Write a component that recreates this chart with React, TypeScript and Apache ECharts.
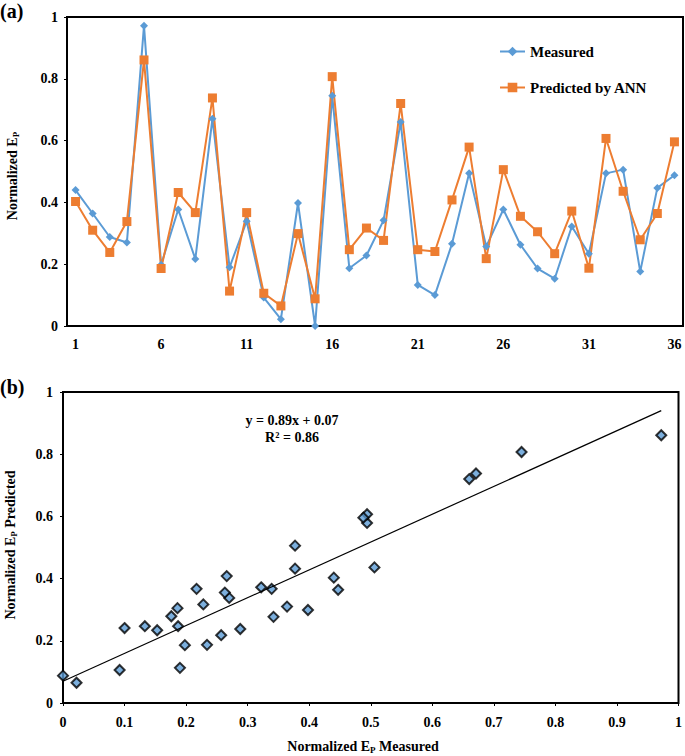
import React, { useEffect, useRef } from "react";
import * as echarts from "echarts";

const sampleLabels = [
  "1","2","3","4","5","6","7","8","9","10","11","12","13","14","15","16","17","18",
  "19","20","21","22","23","24","25","26","27","28","29","30","31","32","33","34","35","36",
];
const measured = [
  0.44, 0.364, 0.288, 0.27, 0.972, 0.198, 0.377, 0.217, 0.671, 0.19, 0.339, 0.092,
  0.022, 0.398, 0.0, 0.745, 0.187, 0.228, 0.342, 0.66, 0.133, 0.1, 0.266, 0.494,
  0.257, 0.377, 0.263, 0.186, 0.153, 0.322, 0.234, 0.494, 0.506, 0.176, 0.447, 0.488,
];
const predicted = [
  0.403, 0.31, 0.238, 0.338, 0.861, 0.186, 0.432, 0.367, 0.738, 0.113, 0.367, 0.106,
  0.065, 0.299, 0.088, 0.807, 0.247, 0.317, 0.277, 0.72, 0.247, 0.241, 0.408, 0.579,
  0.218, 0.506, 0.355, 0.305, 0.234, 0.372, 0.187, 0.607, 0.436, 0.279, 0.364, 0.596,
];
const trendLine = [
  [0, 0.07],
  [0.972, 0.94],
];
const equationLines = ["y = 0.89x + 0.07", "R² = 0.86"];

const FONT = "Liberation Serif";
const BLUE = "#5B9BD5";
const ORANGE = "#ED7D31";

const labelStyle = { color: "#000", fontFamily: FONT, fontWeight: "bold" as const, fontSize: 14 };

function titleRich() {
  return {
    a: { fontFamily: FONT, fontWeight: "bold", fontSize: 14, fill: "#000" },
    s: { fontFamily: FONT, fontWeight: "bold", fontSize: 9, fill: "#000", padding: [7, 0, 0, 0] },
  };
}

export default function App() {
  const ref = useRef<HTMLDivElement>(null);
  useEffect(() => {
    if (!ref.current) return;
    const chart = echarts.init(ref.current, null, { renderer: "svg" });
    const scatterData = measured.map((m, i) => [m, predicted[i]]);
    chart.setOption({
      animation: false,
      backgroundColor: "#fff",
      grid: [
        { left: 67, top: 17, right: 2, bottom: 430, show: true, borderColor: "#000", borderWidth: 2, backgroundColor: "transparent" },
        { left: 63, top: 392, right: 4, bottom: 53, show: true, borderColor: "#000", borderWidth: 2, backgroundColor: "transparent" },
      ],
      legend: {
        data: ["Measured", "Predicted by ANN"],
        orient: "vertical",
        left: 494,
        top: 39,
        itemWidth: 25,
        itemHeight: 12,
        itemGap: 21,
        textStyle: { ...labelStyle, fontSize: 15 },
      },
      xAxis: [
        {
          type: "category",
          gridIndex: 0,
          data: sampleLabels,
          boundaryGap: true,
          axisLine: { show: false },
          axisTick: { show: false },
          axisLabel: { ...labelStyle, interval: 4, margin: 11 },
        },
        {
          type: "value",
          gridIndex: 1,
          min: 0,
          max: 1,
          interval: 0.1,
          splitLine: { show: false },
          axisLine: { show: false },
          axisTick: { show: true, length: 3, lineStyle: { color: "#000" } },
          axisLabel: { ...labelStyle, margin: 12, formatter: (v: number) => String(Math.round(v * 10) / 10) },
        },
      ],
      yAxis: [
        {
          type: "value",
          gridIndex: 0,
          min: 0,
          max: 1,
          interval: 0.2,
          splitLine: { show: false },
          axisLine: { show: false },
          axisTick: { show: true, length: 3, lineStyle: { color: "#000" } },
          axisLabel: { ...labelStyle, margin: 9, formatter: (v: number) => String(Math.round(v * 10) / 10) },
        },
        {
          type: "value",
          gridIndex: 1,
          min: 0,
          max: 1,
          interval: 0.2,
          splitLine: { show: false },
          axisLine: { show: false },
          axisTick: { show: true, length: 3, lineStyle: { color: "#000" } },
          axisLabel: { ...labelStyle, margin: 10, formatter: (v: number) => String(Math.round(v * 10) / 10) },
        },
      ],
      series: [
        {
          name: "Measured",
          type: "line",
          xAxisIndex: 0,
          yAxisIndex: 0,
          data: measured,
          symbol: "diamond",
          symbolSize: 8,
          showAllSymbol: true,
          lineStyle: { color: BLUE, width: 2 },
          itemStyle: { color: BLUE },
        },
        {
          name: "Predicted by ANN",
          type: "line",
          xAxisIndex: 0,
          yAxisIndex: 0,
          data: predicted,
          symbol: "rect",
          symbolSize: 9,
          showAllSymbol: true,
          lineStyle: { color: ORANGE, width: 2 },
          itemStyle: { color: ORANGE },
        },
        {
          name: "Trend",
          type: "line",
          xAxisIndex: 1,
          yAxisIndex: 1,
          data: trendLine,
          symbol: "none",
          lineStyle: { color: "#000", width: 1.2 },
        },
        {
          name: "Scatter",
          type: "scatter",
          xAxisIndex: 1,
          yAxisIndex: 1,
          data: scatterData,
          symbol: "diamond",
          symbolSize: 10,
          itemStyle: { color: BLUE, borderColor: "#000", borderWidth: 2 },
        },
      ],
      graphic: [
        { type: "text", x: 0, y: 1, style: { text: "(a)", font: `bold 20px "${FONT}"`, fill: "#000" } },
        { type: "text", x: 0, y: 377, style: { text: "(b)", font: `bold 20px "${FONT}"`, fill: "#000" } },
        {
          type: "text",
          x: 12,
          y: 176,
          rotation: Math.PI / 2,
          style: { text: "{a|Normalized E}{s|P}", rich: titleRich(), align: "center", verticalAlign: "middle" },
        },
        {
          type: "text",
          x: 10,
          y: 545,
          rotation: Math.PI / 2,
          style: { text: "{a|Normalized E}{s|P}{a| Predicted}", rich: titleRich(), align: "center", verticalAlign: "middle" },
        },
        {
          type: "text",
          x: 363,
          y: 746,
          style: { text: "{a|Normalized E}{s|P}{a| Measured}", rich: titleRich(), align: "center", verticalAlign: "middle" },
        },
        {
          type: "text",
          x: 292,
          y: 420,
          style: { text: equationLines[0], font: `bold 14px "${FONT}"`, fill: "#000", align: "center", verticalAlign: "middle" },
        },
        {
          type: "text",
          x: 292,
          y: 437,
          style: { text: equationLines[1], font: `bold 14px "${FONT}"`, fill: "#000", align: "center", verticalAlign: "middle" },
        },
      ],
    });
    return () => chart.dispose();
  }, []);
  return (
    <div
      ref={ref}
      style={{ position: "absolute", left: 0, top: 0, width: 685, height: 756, background: "#fff" }}
    />
  );
}
